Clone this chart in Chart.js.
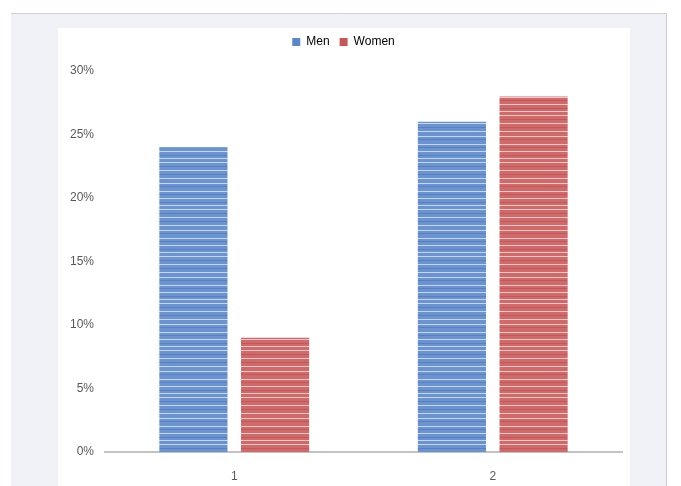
<!DOCTYPE html>
<html>
<head>
<meta charset="utf-8">
<script src="https://cdn.jsdelivr.net/npm/chart.js@4/dist/chart.umd.min.js"></script>
<style>
  html, body { margin: 0; padding: 0; background: #ffffff; }
  #wrap { width: 681px; height: 486px; }
</style>
</head>
<body>
<div id="wrap"><canvas id="c" width="681" height="486"></canvas></div>
<script>
// Survey categories and the share (%) for each group
const categories = ['1', '2'];
const menValues = [24, 26];
const womenValues = [9, 28];
const yTicks = [0, 5, 10, 15, 20, 25, 30];

// Horizontal-striped fill, like the printed texture of the bars
function stripedFill(base, light, dark) {
  const p = document.createElement('canvas');
  p.width = 4; p.height = 47;
  const g = p.getContext('2d');
  g.fillStyle = base;
  g.fillRect(0, 0, p.width, p.height);
  const lightRows = [3, 10, 17, 21, 29, 37, 42];
  const darkRows = [6, 14, 25, 33, 45];
  g.fillStyle = light;
  lightRows.forEach(r => g.fillRect(0, r, p.width, 1));
  g.fillStyle = dark;
  darkRows.forEach(r => g.fillRect(0, r, p.width, 1));
  return g.createPattern(p, 'repeat');
}

const menFill = stripedFill('#6b93d0', '#c6d6ee', '#5682c4');
const womenFill = stripedFill('#d06a6a', '#efc8c8', '#c45858');

// Page frame: light grey panel with a white plotting card on it
const framePlugin = {
  id: 'frame',
  beforeDraw(chart) {
    const ctx = chart.ctx;
    ctx.save();
    ctx.fillStyle = '#ffffff';
    ctx.fillRect(0, 0, chart.width, chart.height);
    ctx.fillStyle = '#f1f2f7';
    ctx.fillRect(11, 13, 655, chart.height - 13);
    ctx.strokeStyle = '#cfd0d4';
    ctx.lineWidth = 1;
    ctx.beginPath();
    ctx.moveTo(11, 13.5);
    ctx.lineTo(666.5, 13.5);
    ctx.lineTo(666.5, chart.height);
    ctx.stroke();
    ctx.fillStyle = '#ffffff';
    ctx.fillRect(58, 28, 572, chart.height - 28);
    ctx.restore();
  }
};

// Leave extra room under the legend
const legendGap = {
  id: 'legendGap',
  beforeInit(chart) {
    const fit = chart.legend.fit;
    chart.legend.fit = function () {
      fit.call(this);
      this.height += 13;
    };
  }
};

const font = { family: 'Liberation Sans', size: 12 };

new Chart(document.getElementById('c'), {
  type: 'bar',
  data: {
    labels: categories,
    datasets: [
      { label: 'Men', data: menValues, backgroundColor: menFill, borderWidth: 0 },
      { label: 'Women', data: womenValues, backgroundColor: womenFill, borderWidth: 0 }
    ]
  },
  options: {
    responsive: false,
    animation: false,
    devicePixelRatio: 1,
    categoryPercentage: 0.632,
    barPercentage: 0.834,
    layout: { padding: { top: 26, left: 65, right: 59, bottom: 0 } },
    plugins: {
      legend: {
        position: 'top',
        labels: {
          boxWidth: 8,
          boxHeight: 8,
          padding: 10,
          color: '#595959',
          font: font,
          generateLabels(chart) {
            return chart.data.datasets.map((ds, i) => ({
              text: ds.label,
              fillStyle: i === 0 ? '#5b87c9' : '#c95656',
              strokeStyle: 'transparent',
              lineWidth: 0,
              datasetIndex: i
            }));
          }
        }
      },
      tooltip: { enabled: false }
    },
    scales: {
      x: {
        afterFit(scale) { scale.height = 34; },
        grid: { display: false },
        border: { display: true, color: '#c3c3c3', width: 2 },
        ticks: { color: '#595959', padding: 9, font: font }
      },
      y: {
        min: 0,
        max: 30,
        afterFit(scale) { scale.width = 40; },
        afterBuildTicks(scale) { scale.ticks = yTicks.map(v => ({ value: v })); },
        grid: { display: false },
        border: { display: false },
        ticks: {
          color: '#595959',
          padding: 3,
          font: font,
          callback: v => v + '%'
        }
      }
    }
  },
  plugins: [framePlugin, legendGap]
});
</script>
</body>
</html>
